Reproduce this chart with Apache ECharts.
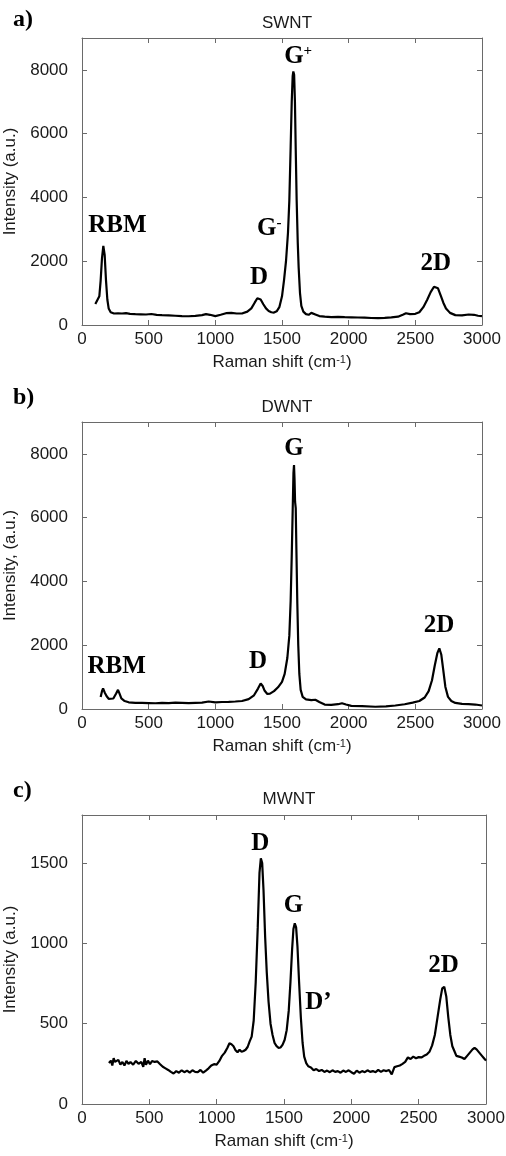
<!DOCTYPE html>
<html>
<head>
<meta charset="utf-8">
<script src="https://cdn.jsdelivr.net/npm/echarts@6/dist/echarts.min.js"></script>
<style>
html,body{margin:0;padding:0;background:#fff;}
#chart{width:506px;height:1156px;}
</style>
</head>
<body>
<div id="chart"></div>
<script>
// ---------- DATA ----------
const panelTitles = ['SWNT', 'DWNT', 'MWNT'];
const panelLetters = ['a)', 'b)', 'c)'];
const yAxisNames = ['Intensity (a.u.)', 'Intensity, (a.u.)', 'Intensity (a.u.)'];
const xTicks = [0, 500, 1000, 1500, 2000, 2500, 3000];
const yMaxes = [9000, 9000, 1800];
const yIntervals = [2000, 2000, 500];

const swntShift = [100,115,130,140,150,160,170,180,190,200,215,240,270,300,330,360,400,440,480,520,560,600,650,700,750,800,850,900,930,960,1000,1040,1080,1120,1160,1200,1240,1270,1295,1315,1325,1340,1360,1380,1400,1420,1440,1460,1480,1500,1515,1530,1545,1555,1565,1573,1580,1585,1591,1597,1603,1610,1618,1625,1635,1645,1660,1680,1700,1720,1735,1750,1780,1820,1870,1920,1970,2020,2070,2120,2170,2220,2270,2320,2370,2410,2430,2460,2500,2530,2560,2590,2615,2640,2655,2670,2690,2710,2730,2760,2800,2850,2900,2940,2970,3000];
const swntIntensity = [660,700,900,1400,2100,2480,2200,1400,800,520,400,360,365,360,370,350,340,335,330,345,320,310,300,290,280,275,285,310,340,320,280,320,370,380,360,360,420,520,700,840,870,800,650,520,440,400,390,430,560,900,1400,2000,2900,3900,5600,7000,7800,7950,7850,7000,5500,3900,2600,1800,1000,600,420,340,320,380,430,330,280,260,250,255,245,240,235,230,220,215,225,240,260,330,370,340,350,400,560,800,1030,1200,1250,1150,930,700,520,380,310,300,330,320,290,280];

const dwntShift = [140,150,158,170,185,200,215,235,255,270,280,295,320,350,400,450,500,550,600,650,700,750,800,850,900,950,1000,1050,1100,1150,1200,1250,1290,1320,1340,1355,1370,1390,1410,1440,1470,1500,1520,1540,1555,1565,1573,1580,1586,1590,1594,1598,1603,1608,1615,1622,1630,1640,1655,1680,1720,1750,1780,1820,1870,1920,1950,1980,2020,2100,2200,2280,2350,2420,2480,2530,2570,2600,2625,2645,2665,2680,2695,2710,2725,2745,2770,2800,2850,2900,2950,3000];
const dwntIntensity = [380,560,650,520,400,320,270,330,480,600,500,330,250,210,195,190,185,180,190,185,200,195,185,195,200,235,210,220,225,235,250,310,430,640,800,720,570,470,480,560,680,850,1100,1600,2300,3400,4800,6200,7400,7650,7200,6500,6300,5000,3300,2000,1100,600,380,300,280,290,220,140,130,150,180,140,100,90,70,80,110,150,200,250,360,560,900,1350,1750,1900,1700,1200,700,380,250,190,160,150,140,110];

const mwntShift = [200,215,225,235,245,255,270,285,300,315,330,345,360,380,400,420,440,455,465,475,490,505,520,540,560,580,600,620,640,660,680,700,720,740,760,780,800,820,840,860,880,900,920,940,960,980,1000,1020,1040,1060,1080,1095,1110,1125,1140,1155,1170,1185,1200,1215,1230,1245,1260,1275,1290,1305,1318,1328,1338,1348,1360,1372,1385,1400,1415,1430,1445,1460,1475,1490,1505,1520,1535,1548,1560,1570,1580,1590,1600,1612,1625,1638,1650,1665,1680,1700,1720,1740,1760,1780,1800,1820,1840,1860,1880,1900,1920,1940,1960,1980,2000,2020,2040,2060,2080,2100,2120,2140,2160,2180,2200,2220,2240,2260,2280,2300,2320,2340,2360,2380,2400,2420,2440,2460,2480,2500,2520,2540,2560,2580,2600,2620,2640,2660,2675,2690,2705,2720,2735,2750,2765,2780,2800,2820,2840,2860,2880,2900,2915,2930,2950,2970,2985,3000];
const mwntIntensity = [255,270,240,285,262,250,275,245,262,240,268,250,262,245,268,250,262,232,285,245,270,248,268,262,265,248,232,222,212,200,190,205,195,210,198,208,195,210,200,198,212,195,208,222,240,248,245,268,300,320,350,378,372,360,335,322,338,325,330,338,355,390,420,520,760,1100,1440,1530,1500,1330,1040,820,640,500,430,380,360,350,352,370,400,460,580,760,960,1090,1125,1100,980,760,540,380,295,255,235,228,210,218,205,212,200,208,198,210,200,205,195,208,200,210,198,188,208,195,205,198,210,200,205,198,212,200,210,205,212,185,230,235,240,250,262,290,280,295,285,292,290,300,308,325,365,430,540,650,720,730,670,540,430,360,330,300,295,290,280,300,320,340,350,340,320,300,285,270];

// annotation labels: [x, y, text]
const swntPeaks = [[265,3110,'{m|RBM}'],[1327,1500,'{m|D}'],[1405,3040,'{m|G}{s|-}'],[1621,8430,'{m|G}{s|+}'],[2653,1920,'{m|2D}']];
const dwntPeaks = [[260,1340,'{m|RBM}'],[1321,1500,'{m|D}'],[1589,8160,'{m|G}'],[2678,2610,'{m|2D}']];
const mwntPeaks = [[1323,1622,'{m|D}'],[1570,1233,'{m|G}'],[1756,632,'{m|D’}'],[2685,860,'{m|2D}']];

const curves = [[swntShift, swntIntensity],[dwntShift, dwntIntensity],[mwntShift, mwntIntensity]];
const peaks = [swntPeaks, dwntPeaks, mwntPeaks];

// ---------- LAYOUT ----------
const grids = [
  {left: 82, top: 38, width: 400, height: 287},
  {left: 82, top: 422, width: 400, height: 287},
  {left: 82, top: 815, width: 404, height: 289}
];
const titleTops = [10, 394, 786];
const letterYs = [22, 400, 793];

const SANS = 'Liberation Sans, Arial, sans-serif';
const SERIF = 'Liberation Serif, Times New Roman, serif';
const axisColor = '#6a6a6a';
const textColor = '#1a1a1a';

const xAxes = [], yAxes = [], series = [], titles = [], graphics = [];

grids.forEach((g, i) => {
  const baseX = {
    type: 'value', gridIndex: i, min: 0, max: 3000, interval: 500,
    axisLine: {show: true, onZero: false, lineStyle: {color: axisColor, width: 1}},
    axisTick: {show: true, inside: true, length: 5, lineStyle: {color: axisColor}},
    splitLine: {show: false}
  };
  xAxes.push(Object.assign({}, baseX, {
    position: 'bottom',
    axisLabel: {show: true, color: textColor, fontSize: 17, fontFamily: SANS, margin: 6,
      formatter: (v) => String(v)},
    name: 'Raman shift (cm{sup|-1})',
    nameLocation: 'middle', nameGap: 29,
    nameTextStyle: {color: textColor, fontSize: 17, fontFamily: SANS,
      rich: {sup: {fontSize: 11, fontFamily: SANS, color: textColor, verticalAlign: 'top'}}}
  }));
  xAxes.push(Object.assign({}, baseX, {position: 'top', axisLabel: {show: false}}));
  const baseY = {
    type: 'value', gridIndex: i, min: 0, max: yMaxes[i], interval: yIntervals[i],
    axisLine: {show: true, onZero: false, lineStyle: {color: axisColor, width: 1}},
    axisTick: {show: true, inside: true, length: 5, lineStyle: {color: axisColor}},
    splitLine: {show: false}
  };
  yAxes.push(Object.assign({}, baseY, {
    position: 'left',
    axisLabel: {show: true, color: textColor, fontSize: 17, fontFamily: SANS, margin: 14,
      showMaxLabel: false, formatter: (v) => String(v)},
    name: yAxisNames[i], nameLocation: 'middle', nameGap: 53, nameRotate: 90,
    nameTextStyle: {color: textColor, fontSize: 17, fontFamily: SANS}
  }));
  yAxes.push(Object.assign({}, baseY, {position: 'right', axisLabel: {show: false}}));

  const [xs, ys] = curves[i];
  series.push({
    type: 'line', xAxisIndex: 2 * i, yAxisIndex: 2 * i,
    data: xs.map((x, k) => [x, ys[k]]),
    showSymbol: false, symbol: 'none',
    lineStyle: {color: '#000', width: 2.2},
    silent: true, z: 2
  });
  series.push({
    type: 'scatter', xAxisIndex: 2 * i, yAxisIndex: 2 * i,
    data: peaks[i].map(p => ({value: [p[0], p[1]], labelText: p[2]})),
    symbolSize: 0, silent: true, z: 5,
    itemStyle: {opacity: 1, color: '#000'},
    label: {
      show: true, position: 'inside', color: '#000', textBorderWidth: 0, opacity: 1,
      formatter: (p) => p.data.labelText,
      rich: {
        m: {fontSize: 25, fontWeight: 'bold', fontFamily: SERIF, color: '#000', textBorderWidth: 0},
        s: {fontSize: 15, fontWeight: 'bold', fontFamily: SERIF, color: '#000', verticalAlign: 'top', textBorderWidth: 0}
      }
    }
  });

  titles.push({
    text: panelTitles[i], left: g.left + g.width / 2, top: titleTops[i], textAlign: 'center',
    textStyle: {fontSize: 17, fontWeight: 'normal', color: textColor, fontFamily: SANS}
  });
  graphics.push({
    type: 'text', left: 13, top: letterYs[i] - 14,
    style: {text: panelLetters[i], font: 'bold 24px ' + SERIF, fill: '#000'}
  });
});

const chart = echarts.init(document.getElementById('chart'), null, {renderer: 'canvas'});
chart.setOption({
  animation: false,
  backgroundColor: '#fff',
  title: titles,
  grid: grids.map(g => Object.assign({containLabel: false, outerBoundsMode: 'none'}, g)),
  xAxis: xAxes,
  yAxis: yAxes,
  series: series,
  graphic: graphics
});
</script>
</body>
</html>
